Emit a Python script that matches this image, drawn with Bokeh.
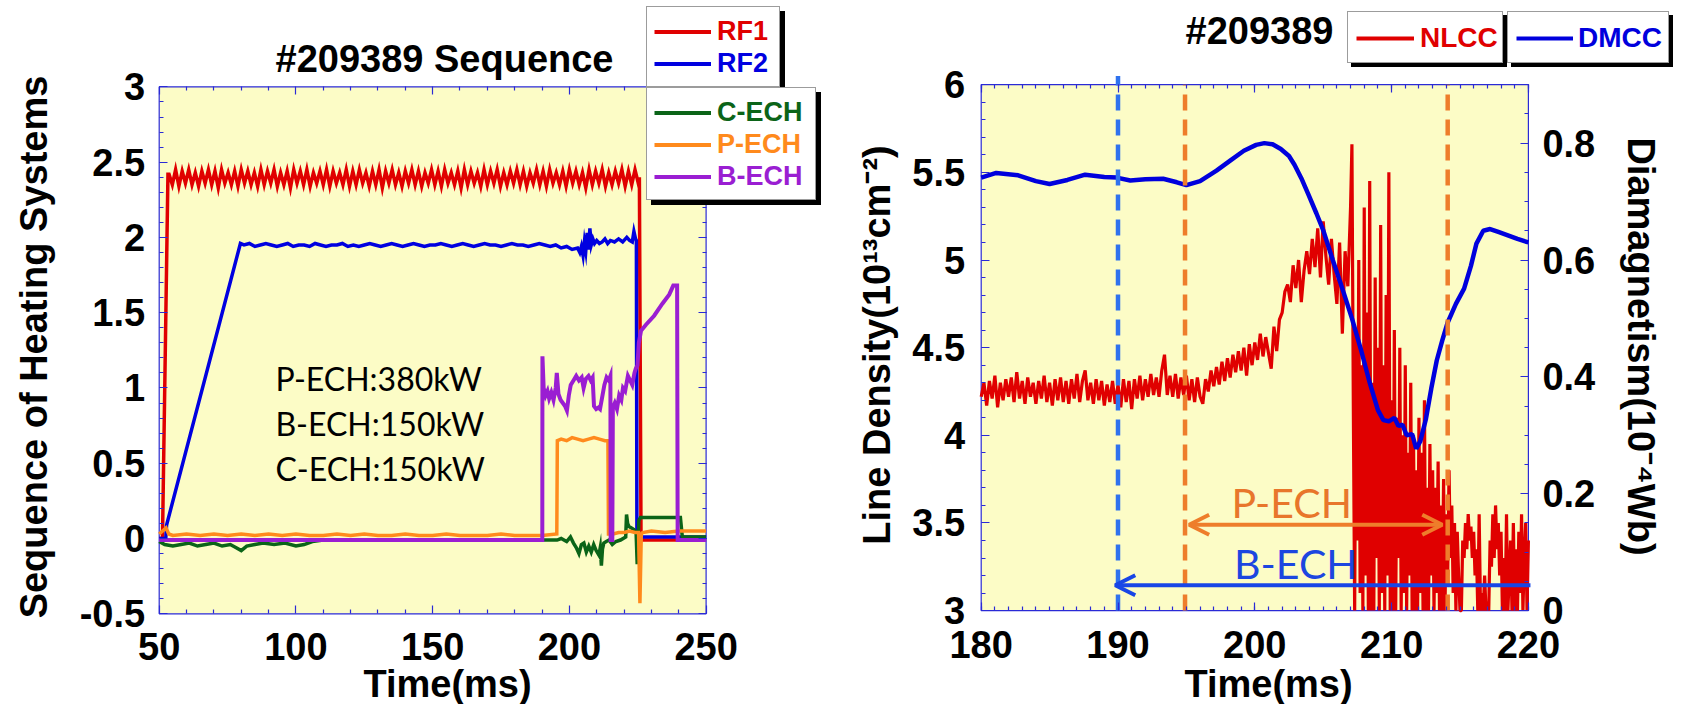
import numpy as np
from bokeh.plotting import figure
from bokeh.layouts import row
from bokeh.models import (Range1d, LinearAxis, FixedTicker, CustomJSTickFormatter,
                          Legend, LegendItem, Label, Arrow, OpenHead)
from bokeh.embed import file_html
from bokeh.resources import INLINE

# ======================= DATA : left panel (#209389 Sequence) =======================
rf1_head_t = [50.0, 51.2, 53.2]
rf1_head_v = [0.0, 0.0, 2.42]
rf1_osc_t0, rf1_osc_dt = 53.6, 1.2
rf1_osc_v = [
    2.42, 2.35, 2.45, 2.34, 2.44, 2.36, 2.45, 2.35, 2.43, 2.34, 2.44, 2.36, 2.45, 2.35, 2.44, 2.33, 2.45, 2.36, 2.43, 2.35,
    2.44, 2.34, 2.45, 2.36, 2.44, 2.35, 2.43, 2.34, 2.45, 2.35, 2.44, 2.36, 2.45, 2.34, 2.43, 2.35, 2.44, 2.33, 2.45, 2.36,
    2.44, 2.35, 2.45, 2.34, 2.43, 2.36, 2.44, 2.35, 2.45, 2.34, 2.44, 2.36, 2.43, 2.35, 2.45, 2.34, 2.44, 2.35, 2.45, 2.36,
    2.43, 2.34, 2.44, 2.35, 2.45, 2.33, 2.44, 2.36, 2.45, 2.35, 2.43, 2.34, 2.44, 2.36, 2.45, 2.35, 2.44, 2.34, 2.43, 2.36,
    2.45, 2.35, 2.44, 2.34, 2.45, 2.36, 2.43, 2.35, 2.44, 2.33, 2.45, 2.35, 2.44, 2.36, 2.43, 2.34, 2.45, 2.35, 2.44, 2.36,
    2.45, 2.34, 2.43, 2.35, 2.44, 2.36, 2.45, 2.35, 2.44, 2.34, 2.43, 2.36, 2.45, 2.35, 2.44, 2.34, 2.45, 2.36, 2.43, 2.35,
    2.44, 2.34, 2.45, 2.36, 2.44, 2.35, 2.43, 2.33, 2.45, 2.35, 2.44, 2.36, 2.45, 2.34, 2.43, 2.35, 2.44, 2.36, 2.45, 2.34,
    2.44, 2.35, 2.45, 2.36]
rf1_tail_t = [225.6, 226.2, 240.0, 250.0]
rf1_tail_v = [2.40, -0.01, -0.01, -0.01]

rf2_head_t = [50.0, 52.4, 52.7, 79.7]
rf2_head_v = [0.0, 0.0, 0.09, 1.96]
rf2_flat_t0, rf2_flat_dt = 81.0, 2.0
rf2_flat_v = [
    1.95, 1.96, 1.94, 1.95, 1.96, 1.95, 1.94, 1.95, 1.96, 1.94,
    1.95, 1.95, 1.94, 1.96, 1.95, 1.94, 1.95, 1.95, 1.96, 1.94,
    1.95, 1.94, 1.95, 1.96, 1.95, 1.94, 1.95, 1.96, 1.95, 1.94,
    1.95, 1.96, 1.95, 1.94, 1.95, 1.95, 1.96, 1.95, 1.94, 1.95,
    1.96, 1.95, 1.94, 1.95, 1.96, 1.95, 1.95, 1.94, 1.95, 1.96,
    1.95, 1.95, 1.94, 1.95, 1.96, 1.95, 1.94, 1.95, 1.93, 1.94,
    1.92, 1.93]
rf2_mid_t = [203.8, 204.4, 205.0, 205.5, 206.0, 206.5, 207.0, 207.5, 208.0, 208.6, 209.2, 210.0, 211.0,
             212.0, 213.0, 214.0, 215.0, 216.5, 218.0, 219.5, 221.0, 222.0, 223.0, 223.6, 224.2]
rf2_mid_v = [1.90, 1.94, 1.88, 1.97, 1.91, 2.03, 1.92, 2.06, 1.95, 1.99, 1.96, 1.98, 1.96,
             1.97, 1.99, 1.96, 1.98, 1.97, 1.99, 1.97, 2.00, 1.98, 1.97, 2.04, 1.99]
rf2_tail_t = [224.5, 224.7, 226.0, 250.0]
rf2_tail_v = [1.98, 0.0, 0.01, 0.01]

cech_t = [50, 52, 55, 58, 61, 64, 67, 70, 73, 76, 78, 80, 82, 85, 88, 92, 96, 100, 103, 106, 110, 120,
          195.5, 197, 199, 200.4, 201.5, 202.5, 203.5, 204.4, 205.3, 206.2, 207.1, 208.0, 208.9, 209.8,
          210.8, 211.3, 211.7, 212.1, 212.6, 213.5, 214.5, 215.7, 217.0, 218.7, 220.6, 220.9, 221.3,
          221.8, 222.7, 223.6, 224.4, 224.8, 225.4, 226.0, 233.0, 240.6, 241.3, 245.0, 250.0]
cech_v = [-0.02, -0.04, -0.05, -0.04, -0.03, -0.05, -0.04, -0.03, -0.05, -0.04, -0.06, -0.08, -0.05, -0.04,
          -0.03, -0.04, -0.03, -0.05, -0.04, -0.02, -0.01, -0.01,
          -0.01, 0.0, -0.02, 0.01, -0.03, -0.06, -0.10, -0.04, -0.03, -0.09, -0.05, -0.09, -0.04, -0.08,
          -0.11, -0.06, -0.18, -0.07, -0.03, -0.02, -0.01, -0.04, -0.02, -0.01, 0.01, 0.16, 0.10,
          0.08, 0.07, 0.06, 0.04, -0.17, 0.12, 0.14, 0.14, 0.14, 0.01, 0.01, 0.01]

pech_t = [50, 52.5, 53.5, 55, 60, 65, 70, 75, 80, 85, 90, 95, 100, 105, 110, 115, 120, 125, 130, 135, 140,
          145, 150, 155, 160, 165, 170, 175, 180, 185, 190, 195.4, 195.6, 197, 199, 201, 203, 205, 207,
          209, 211, 213, 214.1, 214.3, 216, 218, 220, 222, 224, 225.3, 225.8, 226.3, 226.8, 230, 235,
          240, 245, 250]
pech_v = [0.03, 0.07, 0.03, 0.02, 0.03, 0.02, 0.03, 0.02, 0.03, 0.02, 0.03, 0.02, 0.03, 0.02, 0.02, 0.03,
          0.02, 0.03, 0.02, 0.02, 0.03, 0.02, 0.02, 0.03, 0.02, 0.02, 0.02, 0.03, 0.02, 0.02, 0.02, 0.03,
          0.65, 0.66, 0.65, 0.67, 0.66, 0.65, 0.66, 0.67, 0.66, 0.65, 0.65, 0.03, 0.03, 0.04, 0.04, 0.05,
          0.04, 0.04, -0.43, 0.03, 0.04, 0.05, 0.04, 0.05, 0.05, 0.05]

bech_t = [50.0, 190.1, 190.15, 190.6, 191.3, 192.0, 192.6, 193.4, 194.2, 195.0, 195.4, 196.0, 196.8, 197.6,
          198.4, 199.1, 199.8, 200.5, 201.5, 202.5, 203.5, 204.5, 205.2, 206.0, 207.0, 207.8, 208.5,
          209.0, 209.8, 210.6, 211.2, 212.0, 212.8, 213.6, 214.4, 215.0, 215.1, 215.7, 215.9, 216.6,
          217.4, 218.2, 219.0, 219.6, 220.4, 221.4, 222.2, 223.0, 223.8, 224.3, 224.9, 225.4, 226.2,
          228.0, 231.0, 234.0, 236.5, 238.0, 239.4, 239.6, 250.0]
bech_v = [-0.01, -0.01, 1.21, 1.00, 0.95, 0.98, 0.93, 0.97, 0.92, 1.00, 1.10, 0.96, 0.92, 0.90,
          0.88, 0.85, 0.95, 1.02, 1.05, 1.08, 1.05, 1.07, 1.00, 1.06, 1.08, 1.05, 1.07,
          0.88, 0.86, 0.87, 0.86, 0.94, 1.02, 1.07, 1.05, 1.08, -0.01, -0.01, 0.87, 0.90,
          0.86, 0.95, 0.92, 1.00, 0.98, 1.08, 1.05, 1.02, 1.10, 1.13, 1.15, 1.30, 1.38,
          1.42, 1.48, 1.56, 1.62, 1.68, 1.68, -0.01, -0.01]

seq_names = ["RF1", "RF2", "C-ECH", "P-ECH", "B-ECH"]
seq_colors = ["#e00000", "#0000e0", "#0b6418", "#ff8a1c", "#9a1ed2"]
ech_power = ["P-ECH:380kW", "B-ECH:150kW", "C-ECH:150kW"]

# ======================= DATA : right panel (#209389 NLCC / DMCC) =======================
nlcc_a_t0, nlcc_a_dt = 180.0, 0.2
nlcc_a_v = [
    4.22, 4.30, 4.17, 4.31, 4.21, 4.34, 4.16, 4.30, 4.20, 4.32,
    4.22, 4.33, 4.19, 4.36, 4.21, 4.31, 4.18, 4.33, 4.22, 4.30,
    4.18, 4.31, 4.21, 4.34, 4.19, 4.30, 4.17, 4.32, 4.20, 4.33,
    4.19, 4.31, 4.18, 4.32, 4.21, 4.35, 4.19, 4.31, 4.37, 4.20,
    4.30, 4.18, 4.32, 4.20, 4.31, 4.17, 4.29, 4.19, 4.31, 4.18,
    4.29, 4.16, 4.32, 4.19, 4.31, 4.15, 4.32, 4.21, 4.34, 4.20,
    4.32, 4.22, 4.35, 4.23, 4.33, 4.22, 4.37, 4.46, 4.23, 4.34,
    4.22, 4.35, 4.21, 4.33, 4.23, 4.34, 4.20, 4.32, 4.19, 4.33,
    4.22, 4.18, 4.32, 4.25, 4.37, 4.28, 4.39, 4.29, 4.42, 4.31,
    4.44, 4.33, 4.46, 4.36, 4.48, 4.37, 4.50, 4.34, 4.52, 4.40,
    4.53, 4.43, 4.58, 4.45, 4.56, 4.47, 4.38, 4.62, 4.48, 4.66,
    4.70, 4.82, 4.86, 4.76, 4.97, 4.84, 5.00, 4.76, 4.94, 5.05,
    4.92, 5.12, 4.96, 5.18, 4.90, 5.22, 5.02, 4.86, 5.12, 4.92,
    4.75, 5.10, 4.58, 5.05, 4.85, 5.30]
nlcc_b_t0, nlcc_b_dt = 207.1, 0.1
nlcc_b_v = [
    5.66, 4.20, 3.00, 4.60, 3.40, 5.00, 3.10, 4.40, 3.00, 5.30,
    3.20, 4.70, 3.00, 5.45, 3.00, 4.30, 3.00, 4.90, 3.30, 4.50,
    3.00, 5.20, 3.10, 4.40, 3.00, 4.80, 3.20, 5.50, 3.00, 4.20,
    3.00, 4.60, 3.00, 4.10, 3.30, 4.50, 3.00, 4.00, 3.10, 4.40,
    3.00, 3.90, 3.20, 4.30, 3.00, 4.00, 3.00, 3.80, 3.00, 4.10,
    3.10, 3.90, 3.00, 4.20, 3.00, 3.70, 3.00, 3.95, 3.20, 3.80,
    3.00, 3.70, 3.10, 3.85, 3.00, 3.60, 3.00, 3.75, 3.00, 3.55,
    3.20, 3.80, 3.30, 3.60, 3.10, 3.50, 3.00, 3.45, 3.20, 3.00,
    3.00, 3.40, 3.30, 3.50, 3.35, 3.55, 3.40, 3.48, 3.30, 3.45,
    3.20, 3.35, 3.00, 3.55, 3.00, 3.10, 3.00, 3.20, 3.00, 3.05,
    3.00, 3.40, 3.25, 3.55, 3.30, 3.60, 3.35, 3.50, 3.20, 3.45,
    3.00, 3.30, 3.00, 3.55, 3.00, 3.20, 3.40, 3.00, 3.50, 3.00,
    3.35, 3.00, 3.45, 3.10, 3.55, 3.00, 3.30, 3.50, 3.00, 3.40]

dmcc_t = [180.0, 181.1, 182.7, 184.0, 185.0, 186.3, 187.6, 189.0, 189.9, 190.9, 192.0, 193.3, 194.3,
          195.0, 196.0, 197.2, 198.2, 199.2, 200.1, 200.7, 201.3, 201.9, 202.5, 202.9, 203.4, 203.9,
          204.5, 205.0, 205.7, 206.4, 207.1, 207.8, 208.4, 209.0, 209.4, 209.8, 210.2, 210.5, 210.8,
          211.1, 211.5, 211.8, 212.1, 212.5, 212.9, 213.3, 213.7, 214.1, 214.7, 215.3, 215.8, 216.2,
          216.7, 217.2, 217.8, 218.4, 219.2, 220.0]
dmcc_v = [0.741, 0.749, 0.745, 0.735, 0.730, 0.737, 0.746, 0.742, 0.741, 0.736, 0.738, 0.739, 0.733,
          0.728, 0.735, 0.753, 0.770, 0.787, 0.797, 0.800, 0.798, 0.790, 0.778, 0.763, 0.740, 0.713,
          0.680, 0.651, 0.600, 0.551, 0.500, 0.443, 0.390, 0.343, 0.326, 0.324, 0.330, 0.316, 0.318,
          0.300, 0.302, 0.277, 0.290, 0.327, 0.380, 0.428, 0.462, 0.493, 0.525, 0.551, 0.590, 0.628,
          0.650, 0.653, 0.648, 0.643, 0.636, 0.630]

ech_window = {"B-ECH": [190.0, 220.0], "P-ECH": [194.9, 214.1]}
diag_names = ["NLCC", "DMCC"]
diag_colors = ["#e00000", "#0000dd"]

# ======================= layout constants (page pixels) =======================
H = 704
W1, W2 = 845, 835
PA1 = dict(left=158.7, right=705.6, top=86.4, bottom=613.3)    # left plot area
PA2 = dict(left=980.7, right=1527.9, top=84.2, bottom=610.1)   # right plot area

FRAME = "#2a2ad6"
BG = "#fcfcc6"
FONT = "Liberation Sans"
fmt = "return (Math.round(tick*100)/100).toString()"


def ext_range(lo, hi, a, b, size):
    """data range whose pixel interval [a, b] maps to [lo, hi] on a canvas of `size` px."""
    s = (hi - lo) / (b - a)
    return Range1d(lo - a * s, hi + (size - b) * s)


def axis(p, side, ticker, loc, standoff=14, labels=True, **kw):
    ax = LinearAxis(ticker=ticker, fixed_location=loc, **kw)
    ax.axis_line_color = None
    ax.major_tick_line_color = FRAME
    ax.minor_tick_line_color = FRAME
    ax.major_tick_line_width = 1.2
    ax.minor_tick_line_width = 1.2
    ax.major_tick_in, ax.major_tick_out = 8, 0
    ax.minor_tick_in, ax.minor_tick_out = 4, 0
    if labels:
        ax.formatter = CustomJSTickFormatter(code=fmt)
        ax.major_label_text_font = FONT
        ax.major_label_text_font_style = "bold"
        ax.major_label_text_font_size = "38px"
        ax.major_label_text_color = "black"
        ax.major_label_standoff = standoff
    else:
        ax.formatter = CustomJSTickFormatter(code="return ''")
        ax.major_label_text_font_size = "1px"
        ax.major_label_standoff = 0
    p.add_layout(ax, side)


def text(p, x, y, s, size="38px", angle=0.0, color="black", align="center",
         font=FONT, style="bold"):
    """y is the page-pixel position of the visual middle of the text."""
    p.add_layout(Label(x=x, y=H - y, x_units="screen", y_units="screen", text=s, angle=angle,
                       text_font=font, text_font_style=style, text_font_size=size,
                       text_color=color, text_align=align, text_baseline="middle"))


def boxed_legend(p, x0, names, colors, left, top, pad, item_h, spacing, label_w, glyph_w, standoff,
                 font_size, shadow):
    n = len(names)
    box_h = 2 * pad + n * item_h + (n - 1) * spacing
    loc = (int(round(left - x0)), int(round(H - (top + box_h))))
    common = dict(orientation="vertical", padding=pad, spacing=spacing, glyph_width=glyph_w,
                  glyph_height=item_h, label_height=item_h, label_width=label_w,
                  label_standoff=standoff, label_text_font_size="8px", margin=0)
    # drop shadow and white box (blank entries only fix the size)
    for dx, dy, bg, bc in [(shadow, -shadow, "black", "black"), (0, 0, "white", "#3a3a3a")]:
        ghost = [p.line(x=[-1e6], y=[-1e6], line_alpha=0) for _ in names]
        p.add_layout(Legend(items=[LegendItem(label=" ", renderers=[g]) for g in ghost],
                            location=(loc[0] + dx, loc[1] + dy), background_fill_color=bg,
                            background_fill_alpha=1, border_line_color=bc,
                            border_line_width=1.5, **common), "center")
    # one transparent legend per entry, so every label keeps its own colour
    for k, (nm, c) in enumerate(zip(names, colors)):
        r = p.line(x=[-1e6], y=[-1e6], line_color=c, line_width=4)
        item_bottom = top + pad + (k + 1) * item_h + k * spacing
        p.add_layout(Legend(items=[LegendItem(label=nm, renderers=[r])],
                            location=(loc[0] + pad, int(round(H - item_bottom))),
                            orientation="vertical", padding=0, spacing=0, margin=0,
                            glyph_width=glyph_w, glyph_height=item_h, label_height=item_h,
                            label_standoff=standoff, background_fill_alpha=0,
                            border_line_color=None, label_text_color=c,
                            label_text_font=FONT, label_text_font_style="bold",
                            label_text_font_size=font_size), "center")


def base_figure(width, xr, yr):
    p = figure(width=width, height=H, x_range=xr, y_range=yr, output_backend="svg",
               toolbar_location=None, title=None, x_axis_location=None, y_axis_location=None,
               min_border=0)
    p.background_fill_color = "white"
    p.border_fill_color = "white"
    p.outline_line_color = None
    p.grid.visible = False
    return p


# ======================= LEFT FIGURE =======================
p1 = base_figure(W1, ext_range(50, 250, PA1["left"], PA1["right"], W1),
                 ext_range(-0.5, 3, H - PA1["bottom"], H - PA1["top"], H))
p1.quad(left=[50], right=[250], bottom=[-0.5], top=[3], fill_color=BG, line_color=FRAME,
        line_width=1.2)

x1_ticker = FixedTicker(ticks=[50, 100, 150, 200, 250],
                        minor_ticks=[t for t in range(50, 251, 10) if t % 50])
y1_ticker = FixedTicker(ticks=[-0.5, 0, 0.5, 1, 1.5, 2, 2.5, 3],
                        minor_ticks=[round(v, 2) for v in np.arange(-0.5, 3.01, 0.1)])
axis(p1, "below", x1_ticker, -0.5, standoff=19)
axis(p1, "left", y1_ticker, 50, standoff=14)
axis(p1, "above", x1_ticker, 3, labels=False)
axis(p1, "right", y1_ticker, 250, labels=False)

rf1_t = rf1_head_t + [rf1_osc_t0 + rf1_osc_dt * i for i in range(len(rf1_osc_v))] + rf1_tail_t
rf1_v = rf1_head_v + rf1_osc_v + rf1_tail_v
rf2_t = rf2_head_t + [rf2_flat_t0 + rf2_flat_dt * i for i in range(len(rf2_flat_v))] + rf2_mid_t + rf2_tail_t
rf2_v = rf2_head_v + rf2_flat_v + rf2_mid_v + rf2_tail_v

for (t, v), c, w in zip([(rf1_t, rf1_v), (rf2_t, rf2_v), (cech_t, cech_v), (pech_t, pech_v), (bech_t, bech_v)],
                        seq_colors, [3.5, 3.5, 3.5, 3.5, 4]):
    p1.line(x=t, y=v, line_color=c, line_width=w, line_join="miter")

for k, txt in enumerate(ech_power):
    p1.add_layout(Label(x=92.5, y=1.062 - 0.299 * k, text=txt, text_font="Lato",
                        text_font_size="32px", text_color="black", text_baseline="middle",
                        text_align="left"))

text(p1, 444, 58.5, "#209389 Sequence")
text(p1, 447, 683, "Time(ms)")
text(p1, 33, 346.5, "Sequence of Heating Systems", angle=np.pi / 2)
boxed_legend(p1, 0, seq_names[:2], seq_colors[:2], 645.7, 8, 8, 31, 1, 53, 57, 6, "27px", 5)
boxed_legend(p1, 0, seq_names[2:], seq_colors[2:], 645.7, 88.5, 8, 31, 1, 89, 57, 6, "27px", 5)

# ======================= RIGHT FIGURE =======================
X0 = W1
p2 = base_figure(W2, ext_range(180, 220, PA2["left"] - X0, PA2["right"] - X0, W2),
                 ext_range(3, 6, H - PA2["bottom"], H - PA2["top"], H))
p2.extra_y_ranges = {"dm": ext_range(0, 0.9, H - PA2["bottom"], H - PA2["top"], H)}
p2.quad(left=[180], right=[220], bottom=[3], top=[6], fill_color=BG, line_color=FRAME,
        line_width=1.2)

x2_ticker = FixedTicker(ticks=[180, 190, 200, 210, 220], minor_ticks=list(range(180, 221)))
y2_ticker = FixedTicker(ticks=[3, 3.5, 4, 4.5, 5, 5.5, 6],
                        minor_ticks=[round(v, 2) for v in np.arange(3, 6.01, 0.1)])
dm_ticker = FixedTicker(ticks=[0, 0.2, 0.4, 0.6, 0.8],
                        minor_ticks=[round(v, 2) for v in np.arange(0, 0.91, 0.05)])
axis(p2, "below", x2_ticker, 3, standoff=20)
axis(p2, "left", y2_ticker, 180, standoff=16)
axis(p2, "right", dm_ticker, 220, standoff=14, y_range_name="dm")
axis(p2, "above", x2_ticker, 6, labels=False)

nlcc_t = [nlcc_a_t0 + nlcc_a_dt * i for i in range(len(nlcc_a_v))] + \
         [nlcc_b_t0 + nlcc_b_dt * i for i in range(len(nlcc_b_v))]
nlcc_v = nlcc_a_v + nlcc_b_v
p2.line(x=nlcc_t, y=nlcc_v, line_color=diag_colors[0], line_width=3.2)
p2.line(x=dmcc_t, y=dmcc_v, y_range_name="dm", line_color=diag_colors[1], line_width=4.5)

b_start = ech_window["B-ECH"][0]
p_start, p_end = ech_window["P-ECH"]
p2.line(x=[b_start, b_start], y=[3, 6.05], line_color="#2f72ee", line_width=4.5, line_dash="16 9")
for xv in (p_start, p_end):
    p2.line(x=[xv, xv], y=[3, 6], line_color="#ee7d2b", line_width=4.5, line_dash="16 9")

p2.add_layout(Arrow(start=OpenHead(size=20, line_color="#ee7d2b", line_width=4),
                    end=OpenHead(size=20, line_color="#ee7d2b", line_width=4),
                    x_start=p_start + 0.3, y_start=3.49, x_end=p_end - 0.4, y_end=3.49,
                    line_color="#ee7d2b", line_width=4))
p2.add_layout(Arrow(start=None, end=OpenHead(size=20, line_color="#1846e6", line_width=4),
                    x_start=ech_window["B-ECH"][1] + 0.15, y_start=3.145, x_end=b_start - 0.2,
                    y_end=3.145, line_color="#1846e6", line_width=4))
p2.add_layout(Label(x=202.7, y=3.617, text="P-ECH", text_font="Lato", text_font_size="41px",
                    text_color="#e8762b", text_align="center", text_baseline="middle"))
p2.add_layout(Label(x=203.0, y=3.27, text="B-ECH", text_font="Lato", text_font_size="41px",
                    text_color="#1c46e0", text_align="center", text_baseline="middle"))

text(p2, 1259 - X0, 30.4, "#209389")
text(p2, 1268 - X0, 683, "Time(ms)")
text(p2, 876.5 - X0, 344.5, "Line Density(10¹³cm⁻²)", angle=np.pi / 2)
text(p2, 1640 - X0, 346, "Diamagnetism(10⁻⁴Wb)", angle=-np.pi / 2)
boxed_legend(p2, X0, diag_names[:1], diag_colors[:1], 1347, 12.6, 9, 32, 0, 72, 58, 6, "28px", 4)
boxed_legend(p2, X0, diag_names[1:], diag_colors[1:], 1507.5, 12.6, 9, 32, 0, 80, 57, 5, "28px", 4)

layout = row(p1, p2)
open("out.html", "w").write(file_html(layout, INLINE, title="209389"))
